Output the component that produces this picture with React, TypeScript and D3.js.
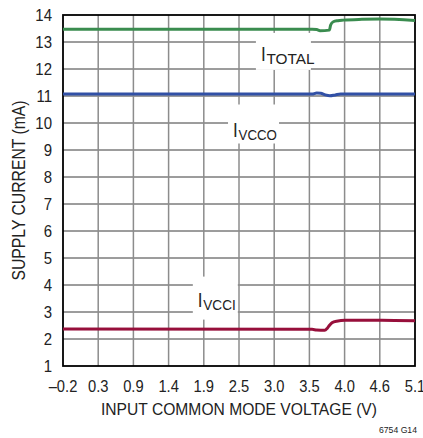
import React from "react";
import * as d3 from "d3";

// ---- data ----
const xTickValues = [-0.2, 0.33, 0.86, 1.39, 1.92, 2.45, 2.98, 3.51, 4.04, 4.57, 5.1];
const xTickLabels = ["\u20130.2", "0.3", "0.9", "1.4", "1.9", "2.5", "3.0", "3.5", "4.0", "4.6", "5.1"];
const yTickValues = [1, 2, 3, 4, 5, 6, 7, 8, 9, 10, 11, 12, 13, 14];

const totalX = [-0.2, 3.55, 3.62, 3.67, 3.81, 3.83, 3.87, 3.94, 4.02, 4.3, 4.57, 5.1];
const totalY = [13.47, 13.47, 13.46, 13.42, 13.44, 13.63, 13.75, 13.79, 13.81, 13.84, 13.85, 13.8];

const vccoX = [-0.2, 3.55, 3.62, 3.68, 3.75, 3.82, 3.9, 3.98, 5.1];
const vccoY = [11.07, 11.07, 11.11, 11.1, 11.04, 11.01, 11.04, 11.07, 11.07];

const vcciX = [-0.2, 3.55, 3.62, 3.74, 3.78, 3.81, 3.85, 3.92, 4.05, 4.6, 5.1];
const vcciY = [2.37, 2.36, 2.33, 2.32, 2.4, 2.5, 2.6, 2.66, 2.69, 2.69, 2.68];

const seriesNames = ["TOTAL", "VCCO", "VCCI"];
const seriesColors = ["#3a8c4f", "#3150a6", "#970f3b"];
// label anchors (data coords of the "I" glyph baseline-left)
const labelX = [2.78, 2.36, 1.83];
const labelY = [12.3, 9.5, 3.2];

const xTitle = "INPUT COMMON MODE VOLTAGE (V)";
const yTitle = "SUPPLY CURRENT (mA)";
const figId = "6754 G14";

const W = 423, H = 438;
const M = { left: 63, right: 415, top: 15, bottom: 366 };
const FONT = "'Liberation Sans', Arial, Helvetica, sans-serif";

export default function App() {
  const x = d3.scaleLinear().domain([-0.2, 5.1]).range([M.left, M.right]);
  const y = d3.scaleLinear().domain([1, 14]).range([M.bottom, M.top]);
  const line = d3.line<[number, number]>()
    .x((d) => x(d[0]))
    .y((d) => y(d[1]))
    .curve(d3.curveMonotoneX);
  const series = [
    d3.zip(totalX, totalY) as [number, number][],
    d3.zip(vccoX, vccoY) as [number, number][],
    d3.zip(vcciX, vcciY) as [number, number][],
  ];
  // box extents relative to anchor (px): [dx0, dy0, dx1, dy1]
  const boxes = [
    [-5, -28, 50, 9],
    [-5, -32, 46, 7],
    [-5, -30, 40, 13],
  ];

  return (
    <svg width={W} height={H} style={{ position: "absolute", left: 0, top: 0, background: "#fff" }}>
      <rect x={0} y={0} width={W} height={H} fill="#fff" />
      {/* horizontal grid */}
      {yTickValues.slice(1, -1).map((v) => (
        <line key={"h" + v} x1={M.left} x2={M.right} y1={y(v)} y2={y(v)} stroke="#3a3a3a" strokeWidth={1} />
      ))}
      {/* vertical grid */}
      {xTickValues.slice(1, -1).map((v) => (
        <line key={"v" + v} x1={x(v)} x2={x(v)} y1={M.top} y2={M.bottom} stroke="#8c8c8c" strokeWidth={1.5} />
      ))}
      {/* label boxes */}
      {seriesNames.map((n, i) => {
        const ax = x(labelX[i]), ay = y(labelY[i]);
        const b = boxes[i];
        return <rect key={"b" + n} x={ax + b[0]} y={ay + b[1]} width={b[2] - b[0]} height={b[3] - b[1]} fill="#fff" />;
      })}
      {/* frame */}
      <rect x={M.left} y={M.top} width={M.right - M.left} height={M.bottom - M.top} fill="none" stroke="#000" strokeWidth={1.8} />
      {/* curves */}
      {series.map((s, i) => (
        <path key={"s" + i} d={line(s) || ""} fill="none" stroke={seriesColors[i]} strokeWidth={3} strokeLinejoin="round" />
      ))}
      {/* series labels */}
      {seriesNames.map((n, i) => {
        const ax = x(labelX[i]), ay = y(labelY[i]);
        return (
          <g key={"l" + n} fontFamily={FONT} fill="#222">
            <text transform={`translate(${ax},${ay}) scale(0.85,1)`} fontSize={20}>I</text>
            <text transform={`translate(${ax + 5.5},${ay + 3})`} fontSize={14.5}
              textLength={n.length * 9.6 - (n.endsWith("I") ? 6 : 0)} lengthAdjust="spacingAndGlyphs">{n}</text>
          </g>
        );
      })}
      {/* y tick labels */}
      {yTickValues.map((v) => (
        <text key={"yt" + v} transform={`translate(52,${y(v) + 5.8}) scale(0.92,1)`} textAnchor="end"
          fontFamily={FONT} fontSize={16.3} fill="#222">{v}</text>
      ))}
      {/* x tick labels */}
      {xTickValues.map((v, i) => (
        <text key={"xt" + i} transform={`translate(${x(v)},${391.7}) scale(0.92,1)`} textAnchor="middle"
          fontFamily={FONT} fontSize={16} fill="#222">{xTickLabels[i]}</text>
      ))}
      {/* axis titles */}
      <text x={(M.left + M.right) / 2} y={415} textAnchor="middle" fontFamily={FONT} fontSize={17}
        fill="#222" textLength={276} lengthAdjust="spacingAndGlyphs">{xTitle}</text>
      <text transform={`translate(25,${(M.top + M.bottom) / 2}) rotate(-90)`} textAnchor="middle" fontFamily={FONT}
        fontSize={17.5} fill="#222" textLength={180} lengthAdjust="spacingAndGlyphs">{yTitle}</text>
      <text x={417} y={432.5} textAnchor="end" fontFamily={FONT} fontSize={9.5} fill="#222"
        textLength={38} lengthAdjust="spacingAndGlyphs">{figId}</text>
    </svg>
  );
}
